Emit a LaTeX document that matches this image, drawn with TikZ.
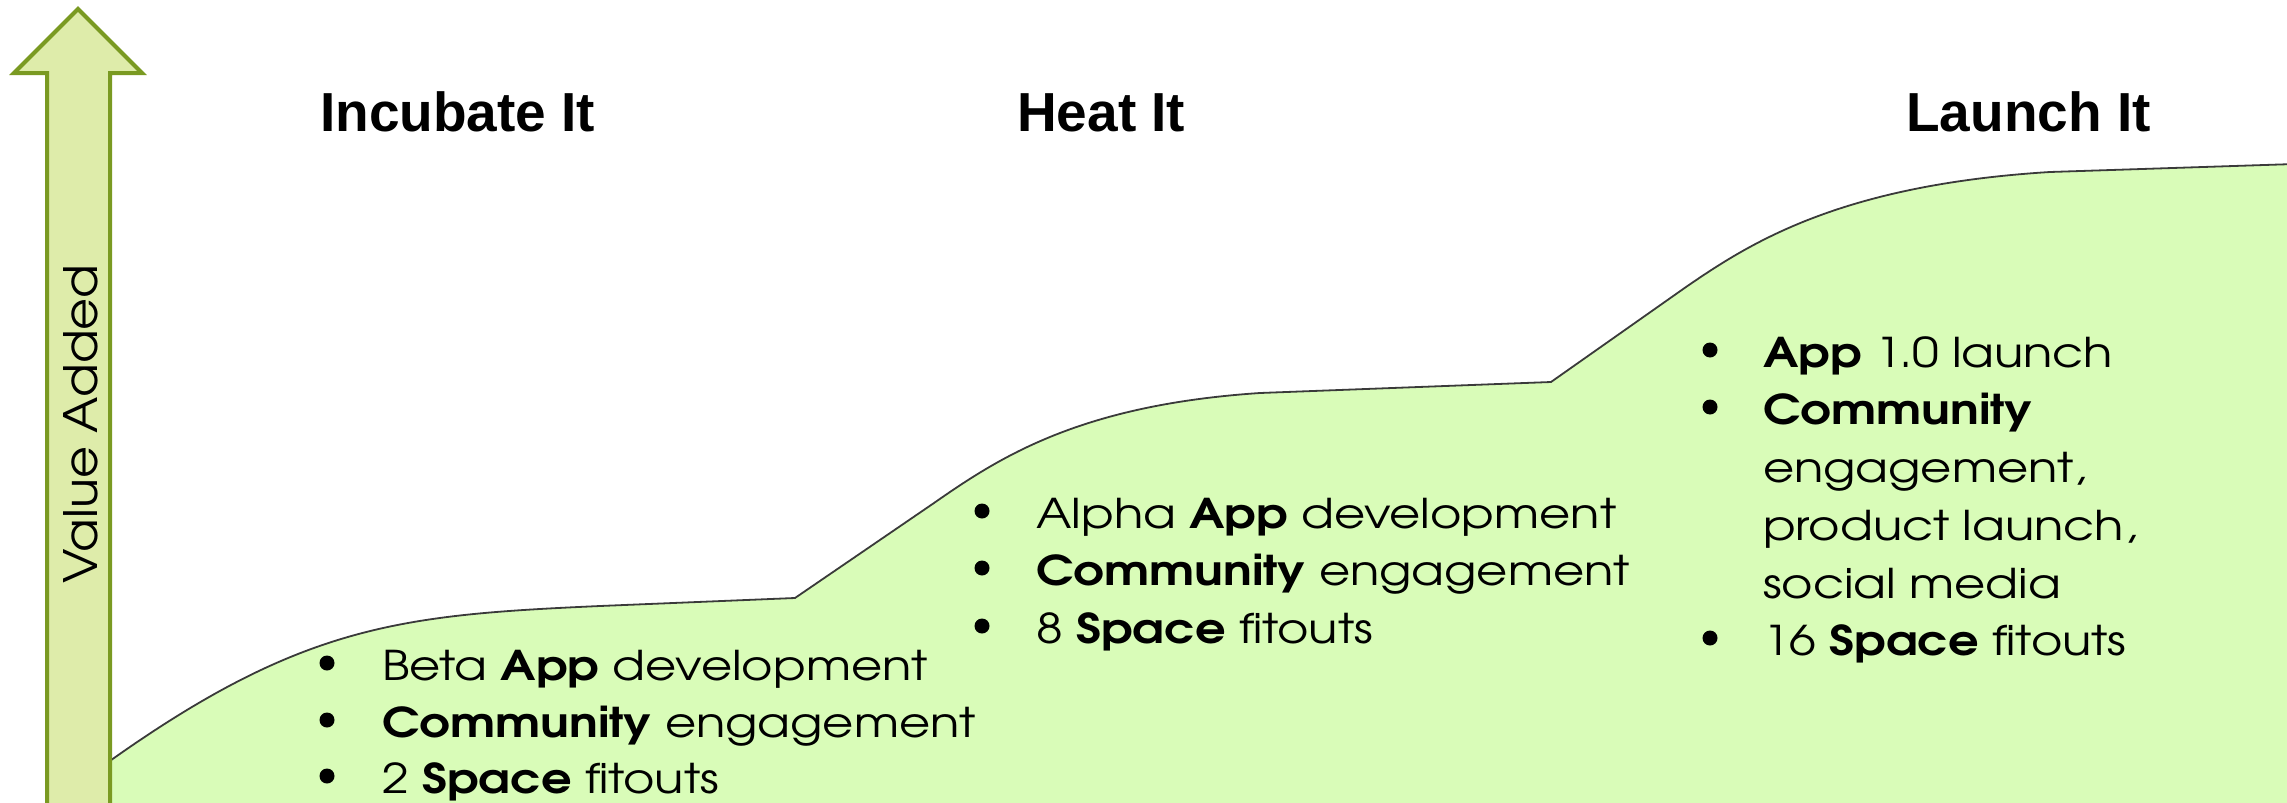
\documentclass[tikz,border=0pt]{standalone}
\usepackage{fontspec}
\setmainfont{Liberation Sans}
\newfontfamily\gothic{texgyreadventor}[Extension=.otf, UprightFont=*-regular, BoldFont=*-bold, FakeStretch=1.17]
\newfontfamily\gothicva{texgyreadventor}[Extension=.otf, UprightFont=*-regular, BoldFont=*-bold, FakeStretch=1.07]
\definecolor{hill}{HTML}{D9FCB8}
\definecolor{arrowfill}{HTML}{DEECAA}
\definecolor{arrowline}{HTML}{7A9A22}
\definecolor{curveline}{HTML}{3A3A3A}
\begin{document}
\begin{tikzpicture}[x=1pt,y=-1pt,
  titletext/.style={anchor=base west, inner sep=0pt, font=\fontsize{55}{60}\selectfont\bfseries},
  itemtext/.style={anchor=base west, inner sep=0pt, font=\gothic\fontsize{41}{50}\selectfont},
  bulletdot/.style={circle, fill=black, inner sep=0pt, minimum size=15pt},
  hillline/.style={draw=curveline, line width=1.8pt},
  bigarrow/.style={fill=arrowfill, draw=arrowline, line width=4pt, line join=miter}]
\useasboundingbox (0,0) rectangle (2287,803);
\clip (0,0) rectangle (2287,803);
\fill[white] (0,0) rectangle (2287,803);
% hill profile
\coordinate (h0) at (100,768);
\coordinate (h1) at (600,606);
\coordinate (h2) at (795,598);
\coordinate (h3) at (934,503);
\coordinate (h4) at (1260,393);
\coordinate (h5) at (1551,382);
\coordinate (h6) at (1686,287);
\coordinate (h7) at (2050,172);
\coordinate (h8) at (2295,164);
\fill[hill] (h0) .. controls (300,624) and (400,615) .. (h1) -- (h2) -- (h3)
  .. controls (1000,457) and (1080,405) .. (h4) -- (h5) -- (h6)
  .. controls (1750,243) and (1840,185) .. (h7) -- (h8) -- (2295,810) -- (90,810) -- cycle;
\draw[hillline] (h0) .. controls (300,624) and (400,615) .. (h1) -- (h2) -- (h3)
  .. controls (1000,457) and (1080,405) .. (h4) -- (h5) -- (h6)
  .. controls (1750,243) and (1840,185) .. (h7) -- (h8);
% value arrow
\draw[bigarrow] (47,815) -- (47,73) -- (14,73) -- (78,9) -- (142,73) -- (110,73) -- (110,815) -- cycle;
\node[rotate=90, anchor=base, inner sep=0pt, font=\gothicva\fontsize{46}{50}\selectfont] (va) at (97,424) {Value Added};
% titles
\node[titletext] (t1) at (320,131) {Incubate It};
\node[titletext] (t2) at (1017,131) {Heat It};
\node[titletext] (t3) at (1906,131) {Launch It};
% stage 1
\node[bulletdot] (b11) at (327,663) {};
\node[bulletdot] (b12) at (327,720) {};
\node[bulletdot] (b13) at (327,776) {};
\node[itemtext] (i11) at (382,680) {Beta \textbf{App} development};
\node[itemtext] (i12) at (382,737) {\textbf{Community} engagement};
\node[itemtext] (i13) at (382,793) {2 \textbf{Space} fitouts};
% stage 2
\node[bulletdot] (b21) at (982,511) {};
\node[bulletdot] (b22) at (982,568) {};
\node[bulletdot] (b23) at (982,626) {};
\node[itemtext] (i21) at (1036,528) {Alpha \textbf{App} development};
\node[itemtext] (i22) at (1036,585) {\textbf{Community} engagement};
\node[itemtext] (i23) at (1036,643) {8 \textbf{Space} fitouts};
% stage 3
\node[bulletdot] (b31) at (1710,350) {};
\node[bulletdot] (b32) at (1710,407) {};
\node[bulletdot] (b33) at (1710,638) {};
\node[itemtext] (i31) at (1763,367) {\textbf{App} 1.0 launch};
\node[itemtext] (i32) at (1763,424) {\textbf{Community}};
\node[itemtext] (i33) at (1763,482) {engagement,};
\node[itemtext] (i34) at (1763,540) {product launch,};
\node[itemtext] (i35) at (1763,598) {social media};
\node[itemtext] (i36) at (1763,655) {16 \textbf{Space} fitouts};
\end{tikzpicture}
\end{document}
